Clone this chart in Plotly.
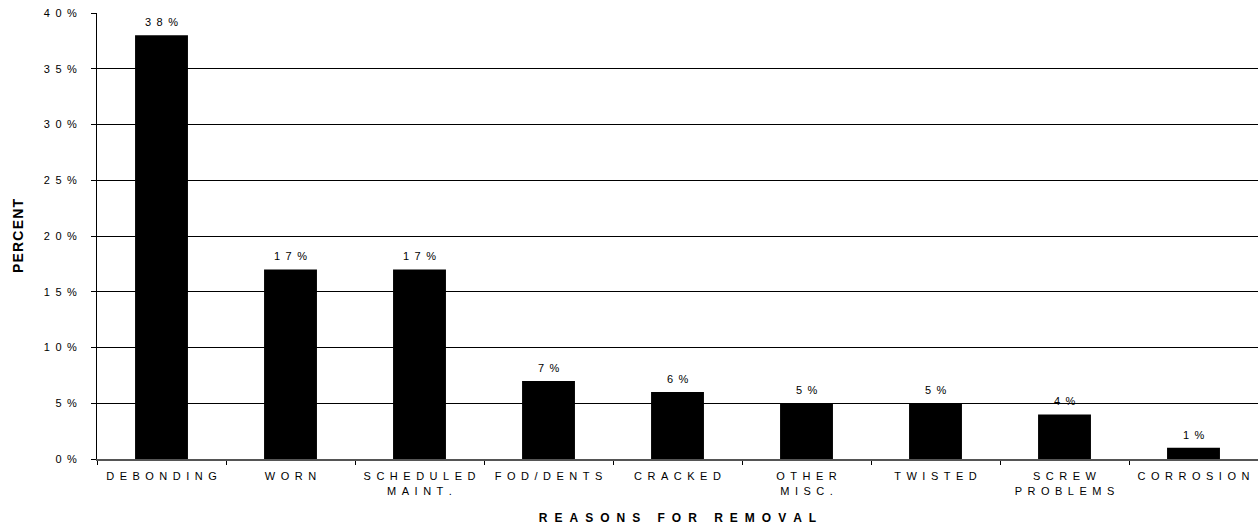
import plotly.graph_objects as go

# Reasons for removal and share of removals (%)
reasons = ["DEBONDING", "WORN", "SCHEDULED\nMAINT.", "FOD/DENTS", "CRACKED",
           "OTHER\nMISC.", "TWISTED", "SCREW\nPROBLEMS", "CORROSION"]
percent = [38, 17, 17, 7, 6, 5, 5, 4, 1]
y_ticks = [0, 5, 10, 15, 20, 25, 30, 35, 40]

# wide letter spacing built from typographic spaces between characters
GAP = "\u2002"
GAP_WIDE = "\u2002\u200a"


def spaced(s, gap=GAP):
    """Letter-space a label; newlines become <br>."""
    return "<br>".join(gap.join(list(line)) for line in s.split("\n"))


cat_labels = [spaced(r) for r in reasons]
bar_text = [spaced(f"{v}%") for v in percent]
y_text = [spaced(f"{v}%") for v in y_ticks]

FONT = "Liberation Sans, Arial, sans-serif"
SMALL = dict(family=FONT, size=11, color="black")

fig = go.Figure(
    go.Bar(
        x=cat_labels,
        y=percent,
        marker=dict(color="black", line=dict(width=0)),
        width=0.41,
        hoverinfo="x+y",
    )
)

# value labels above each bar
for cat, val, txt in zip(cat_labels, percent, bar_text):
    fig.add_annotation(x=cat, y=val, text=txt, showarrow=False,
                       yanchor="bottom", yshift=5, font=SMALL)

fig.update_layout(
    width=1258,
    height=527,
    margin=dict(l=97, r=0, t=13, b=68),
    plot_bgcolor="white",
    paper_bgcolor="white",
    showlegend=False,
    font=dict(family=FONT, size=11, color="black"),
)

fig.update_xaxes(
    type="category",
    tickson="boundaries",
    ticks="outside",
    ticklen=4,
    tickwidth=1,
    tickcolor="black",
    showline=True,
    linecolor="#555555",
    linewidth=2,
    showgrid=False,
    tickfont=SMALL,
    ticklabelstandoff=6,
    title=dict(text="<b>" + spaced("REASONS FOR REMOVAL", GAP_WIDE) + "</b>",
               font=dict(family=FONT, size=12, color="black"), standoff=18),
)

fig.update_yaxes(
    range=[0, 40],
    tickvals=y_ticks,
    ticktext=y_text,
    ticks="outside",
    ticklen=5,
    tickcolor="black",
    showline=True,
    linecolor="black",
    linewidth=1,
    showgrid=True,
    gridcolor="black",
    gridwidth=1,
    zeroline=False,
    tickfont=SMALL,
    ticklabelstandoff=12,
    title=dict(text="<b>" + spaced("PERCENT", "\u200a") + "</b>",
               font=dict(family=FONT, size=14, color="black"), standoff=16),
)

fig.write_html("out.html")
